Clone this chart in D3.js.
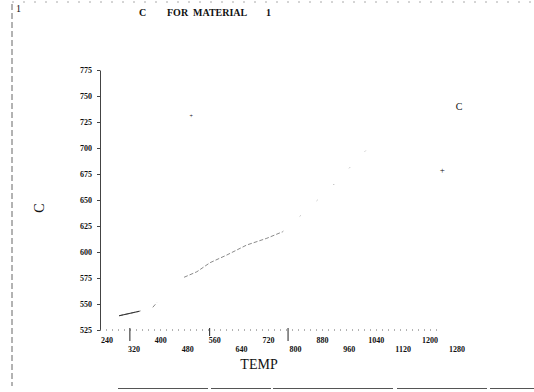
<!DOCTYPE html>
<html>
<head>
<meta charset="utf-8">
<script src="https://cdn.jsdelivr.net/npm/d3@7"></script>
<style>
  body { margin: 0; background: #fff; }
  svg { display: block; }
  text { font-family: "Liberation Serif", "DejaVu Serif", serif; fill: #111; }
</style>
</head>
<body>
<div id="chart"></div>
<script>
// values (null = gap in the trace)
const curveTemp = [276, 336, 345, null, 376, 388, null, 469, 507, 546, 596, 655, 715, 762, 829, 904, 1030];
const curveC    = [538.7, 543, 544, null, 546.8, 551.3, null, 575.7, 581, 589.7, 597.1, 606.7, 613.2, 619.5, 639, 661.5, 704.8];
const pointTemp = [490, 1236];
const pointC    = [732, 678.8];
const xTicks = [240, 320, 400, 480, 560, 640, 720, 800, 880, 960, 1040, 1120, 1200, 1280];
const yTicks = [525, 550, 575, 600, 625, 650, 675, 700, 725, 750, 775];
const stubTicks = [308, 545, 778];

const width = 534, height = 392;

const x = d3.scaleLinear().domain([240, 1280]).range([107, 457]);
const y = d3.scaleLinear().domain([525, 775]).range([330, 70]);
const x0 = x.invert(100);

const svg = d3.select('#chart').append('svg')
	.attr('width', width).attr('height', height);

// page frame left over from the scan
svg.append('line').attr('x1', 12).attr('x2', 12).attr('y1', 4).attr('y2', 386)
	.attr('stroke', '#666').attr('stroke-dasharray', '6,3');
svg.append('line').attr('x1', 12).attr('x2', 534).attr('y1', 2).attr('y2', 2)
	.attr('stroke', '#aaa').attr('stroke-dasharray', '2,9');
svg.append('line').attr('x1', 118).attr('x2', 534).attr('y1', 388.5).attr('y2', 388.5)
	.attr('stroke', '#555').attr('stroke-dasharray', '90,3,60,2,120,4');

// y axis
const yAxis = svg.append('g').attr('transform', `translate(${x(x0)},0)`)
	.call(d3.axisLeft(y).tickValues(yTicks).tickSizeInner(3).tickSizeOuter(0).tickPadding(5));
yAxis.select('.domain').attr('stroke', '#444');
yAxis.selectAll('.tick line').attr('stroke', '#444');
yAxis.selectAll('text').style('font-size', '8px').style('font-weight', 'bold')
	.style('font-family', '"Liberation Serif", serif').attr('fill', '#111');

// x axis: dotted base line, staggered labels
const xg = svg.append('g');
xg.append('line').attr('x1', x(x0)).attr('x2', x(1225)).attr('y1', y(525)).attr('y2', y(525))
	.attr('stroke', '#666').attr('stroke-dasharray', '1,5');
xg.selectAll('.stub').data(stubTicks).join('line')
	.attr('x1', d => x(d)).attr('x2', d => x(d))
	.attr('y1', y(525) - 2).attr('y2', (d, i) => y(525) + (i === 1 ? 6 : 11))
	.attr('stroke', '#222');
xg.selectAll('.xl').data(xTicks).join('text')
	.attr('x', d => x(d))
	.attr('y', (d, i) => i % 2 === 0 ? 343 : 352)
	.attr('text-anchor', 'middle')
	.style('font-size', '8px').style('font-weight', 'bold')
	.text(d => d);

// curve, faint dashed like the scan
const idx = d3.range(curveTemp.length);
const line = d3.line().defined(i => curveTemp[i] !== null)
	.x(i => x(curveTemp[i])).y(i => y(curveC[i]));
svg.append('path').attr('d', line(idx.slice(0, 14)))
	.attr('fill', 'none').attr('stroke', '#8a8a8a').attr('stroke-width', 1)
	.attr('stroke-dasharray', '4,2');
svg.append('path').attr('d', line(idx.slice(0, 2)))
	.attr('fill', 'none').attr('stroke', '#333').attr('stroke-width', 1.2);
svg.append('path').attr('d', line(idx.slice(13)))
	.attr('fill', 'none').attr('stroke', '#999').attr('stroke-width', 1)
	.attr('stroke-dasharray', '1,22');

// isolated points
svg.selectAll('.pt').data(pointTemp).join('text')
	.attr('x', d => x(d)).attr('y', (d, i) => y(pointC[i]) + 3)
	.attr('text-anchor', 'middle')
	.style('font-size', (d, i) => i === 0 ? '6px' : '9px')
	.attr('fill', (d, i) => i === 0 ? '#999' : '#111')
	.text('+');

// texts
svg.append('text').attr('x', 16).attr('y', 12).style('font-size', '10px').text('1');
const title = svg.append('text').attr('y', 16).style('font-size', '10px').style('font-weight', 'bold');
title.append('tspan').attr('x', 139).text('C');
title.append('tspan').attr('x', 167).text('FOR');
title.append('tspan').attr('x', 193).text('MATERIAL');
title.append('tspan').attr('x', 266).text('1');

svg.append('text').attr('x', 459).attr('y', 110).attr('text-anchor', 'middle')
	.style('font-size', '10px').text('C');
svg.append('text').attr('transform', 'translate(44,208) rotate(-90)')
	.attr('text-anchor', 'middle').style('font-size', '14px').text('C');
svg.append('text').attr('x', 259).attr('y', 369).attr('text-anchor', 'middle')
	.style('font-size', '14px').text('TEMP');
</script>
</body>
</html>
